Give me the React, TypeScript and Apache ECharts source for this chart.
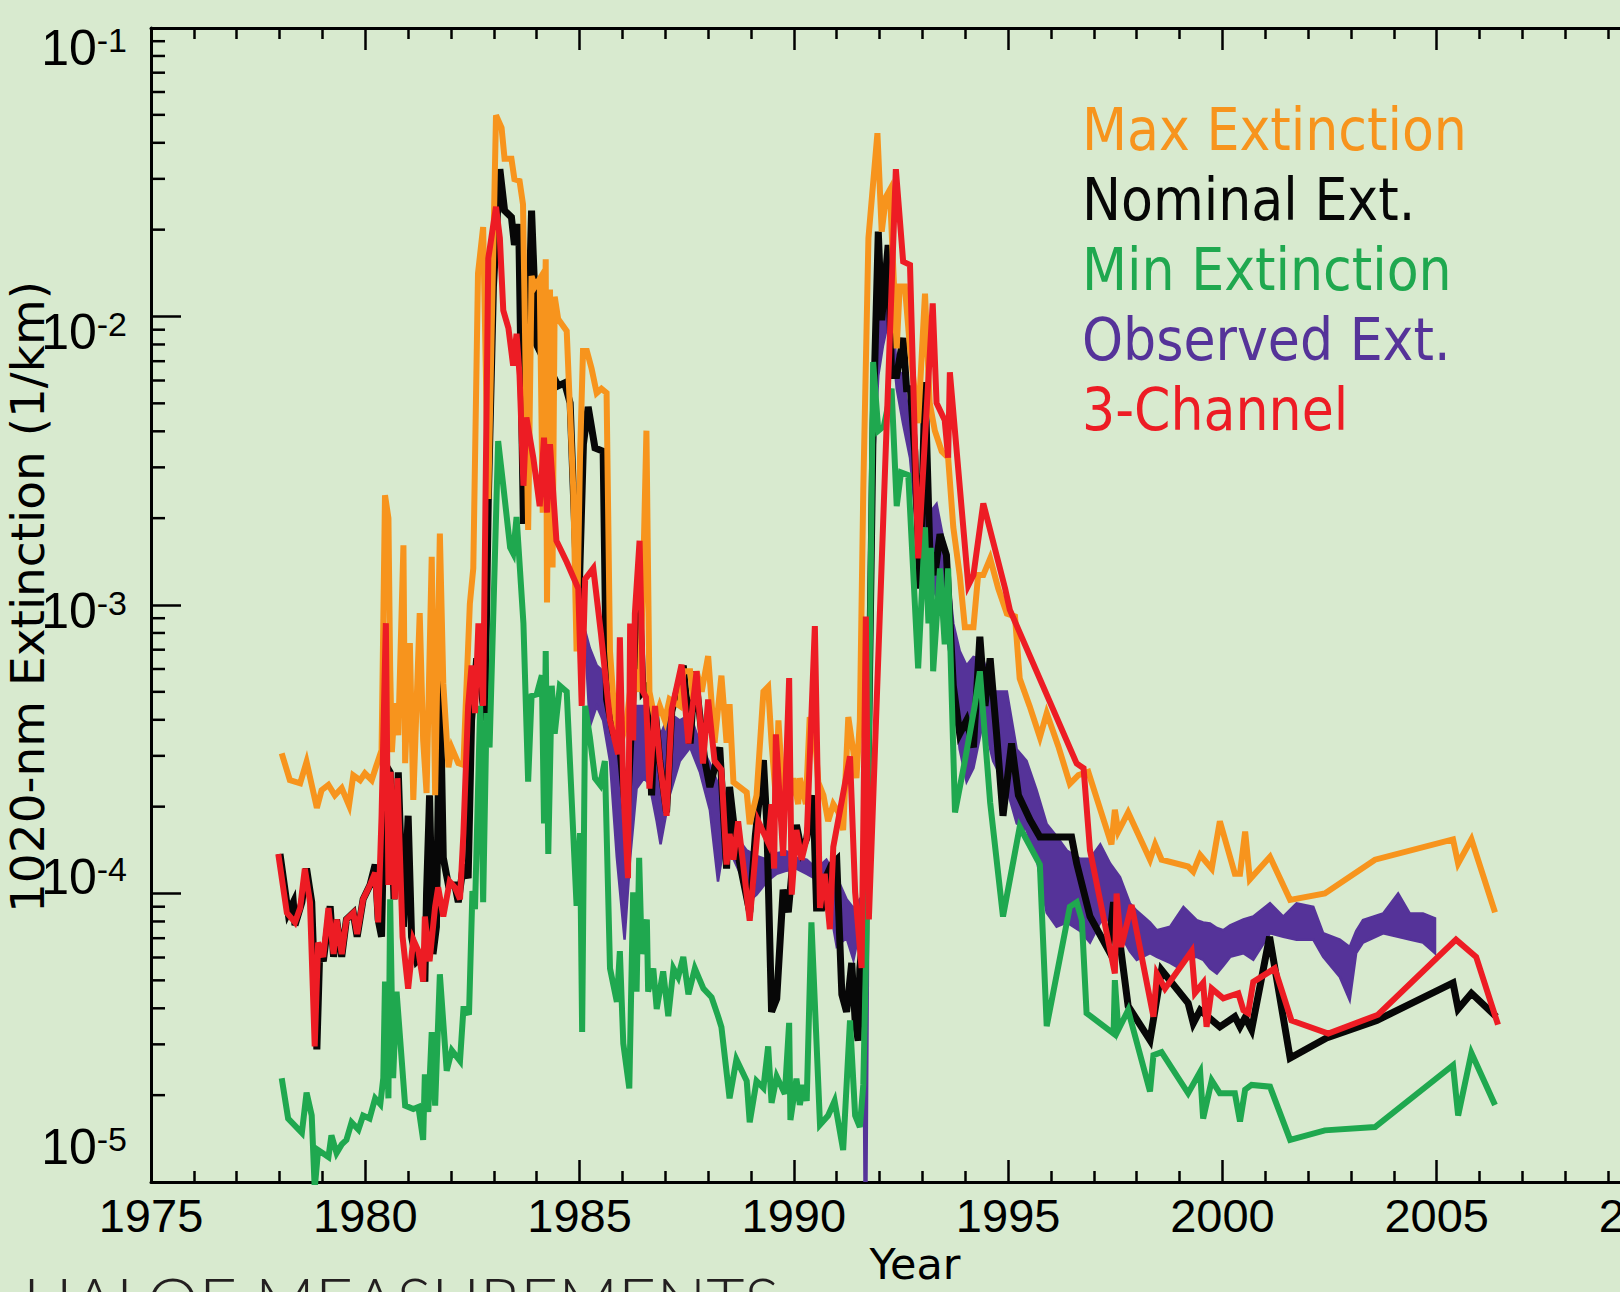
import React, { useEffect, useRef } from "react";
import * as echarts from "echarts";

// HALOE-era aerosol extinction at 1020 nm, [year, extinction in 1/km]
const maxExtinction: [number, number][] = [
  [1978.05, 3.06e-4], [1978.24, 2.47e-4], [1978.48, 2.41e-4], [1978.63, 2.86e-4], [1978.87, 1.98e-4],
  [1978.98, 2.28e-4], [1979.14, 2.38e-4], [1979.29, 2.19e-4], [1979.45, 2.32e-4], [1979.62, 2.02e-4],
  [1979.72, 2.57e-4], [1979.88, 2.47e-4], [1979.99, 2.61e-4], [1980.15, 2.47e-4], [1980.25, 2.75e-4],
  [1980.38, 3.14e-4], [1980.46, 2.4e-3], [1980.54, 2.0e-3], [1980.58, 6.1e-4], [1980.62, 3.09e-4],
  [1980.69, 4.57e-4], [1980.77, 3.54e-4], [1980.89, 1.61e-3], [1980.93, 2.83e-4], [1981.04, 7.38e-4],
  [1981.12, 2.11e-4], [1981.27, 9.38e-4], [1981.35, 3.4e-4], [1981.43, 2.23e-4], [1981.55, 1.47e-3],
  [1981.63, 2.19e-4], [1981.74, 1.77e-3], [1981.82, 5.36e-4], [1981.94, 2.74e-4], [1982.02, 3.19e-4],
  [1982.17, 2.83e-4], [1982.29, 2.79e-4], [1982.33, 3.99e-4], [1982.44, 1.01e-3], [1982.52, 1.34e-3],
  [1982.63, 1.41e-2], [1982.75, 2.04e-2], [1982.87, 2.33e-3], [1983.05, 4.98e-2], [1983.18, 4.51e-2],
  [1983.25, 3.52e-2], [1983.41, 3.52e-2], [1983.48, 2.99e-2], [1983.6, 2.95e-2], [1983.68, 2.45e-2],
  [1983.8, 1.82e-3], [1983.88, 1.38e-2], [1983.96, 1.27e-2], [1984.07, 1.35e-2], [1984.14, 2.09e-3],
  [1984.21, 1.58e-2], [1984.24, 1.02e-3], [1984.31, 1.24e-2], [1984.37, 1.35e-3], [1984.42, 1.17e-2],
  [1984.5, 9.8e-3], [1984.7, 8.9e-3], [1984.85, 2.59e-3], [1984.93, 6.9e-4], [1985.01, 3.24e-3],
  [1985.08, 7.6e-3], [1985.17, 7.6e-3], [1985.28, 6.6e-3], [1985.4, 5.43e-3], [1985.51, 5.62e-3],
  [1985.63, 5.43e-3], [1985.71, 6.9e-4], [1985.8, 4.47e-4], [1985.9, 3.58e-4], [1985.98, 3.39e-4],
  [1986.1, 3.98e-4], [1986.25, 6.17e-4], [1986.4, 5.01e-4], [1986.48, 1.2e-3], [1986.56, 4.02e-3],
  [1986.63, 5.01e-4], [1986.76, 3.98e-4], [1986.87, 4.47e-4], [1986.99, 3.98e-4], [1987.1, 4.72e-4],
  [1987.34, 4.47e-4], [1987.42, 5.89e-4], [1987.58, 5.89e-4], [1987.65, 4.72e-4], [1987.73, 5.89e-4],
  [1987.85, 5.01e-4], [1988.0, 6.65e-4], [1988.15, 3.33e-4], [1988.31, 5.69e-4], [1988.43, 3.33e-4],
  [1988.5, 4.53e-4], [1988.59, 2.43e-4], [1988.9, 2.24e-4], [1988.97, 1.74e-4], [1989.13, 2.19e-4],
  [1989.29, 5.01e-4], [1989.4, 5.21e-4], [1989.48, 3.33e-4], [1989.58, 2.14e-4], [1989.64, 3.98e-4],
  [1989.76, 2.04e-4], [1989.88, 2.04e-4], [1989.99, 2.51e-4], [1990.1, 2.04e-4], [1990.14, 2.51e-4],
  [1990.28, 2.04e-4], [1990.37, 4.09e-4], [1990.49, 3.55e-4], [1990.57, 2.43e-4], [1990.69, 2.19e-4],
  [1990.8, 1.78e-4], [1990.92, 2.04e-4], [1991.04, 1.91e-4], [1991.15, 1.66e-4], [1991.27, 4.09e-4],
  [1991.39, 3.09e-4], [1991.46, 2.51e-4], [1991.54, 3.98e-4], [1991.62, 2.51e-3], [1991.74, 1.87e-2],
  [1991.95, 4.32e-2], [1992.05, 1.97e-2], [1992.15, 2.6e-2], [1992.24, 2.75e-2], [1992.4, 7.76e-3],
  [1992.47, 1.27e-2], [1992.59, 1.27e-2], [1992.71, 7.76e-3], [1992.9, 4.27e-3], [1993.06, 1.2e-2],
  [1993.17, 5.01e-3], [1993.29, 4.02e-3], [1993.45, 3.41e-3], [1993.6, 3.24e-3], [1993.72, 1.86e-3],
  [1993.87, 1.27e-3], [1993.99, 8.38e-4], [1994.19, 8.38e-4], [1994.3, 1.27e-3], [1994.42, 1.27e-3],
  [1994.58, 1.45e-3], [1994.77, 1.14e-3], [1994.97, 9.33e-4], [1995.16, 9.12e-4], [1995.27, 5.56e-4],
  [1995.5, 4.47e-4], [1995.74, 3.48e-4], [1995.9, 4.22e-4], [1996.17, 3.24e-4], [1996.44, 2.4e-4],
  [1996.64, 2.57e-4], [1996.87, 2.64e-4], [1997.41, 1.48e-4], [1997.49, 1.95e-4], [1997.57, 1.64e-4],
  [1997.8, 1.91e-4], [1998.31, 1.31e-4], [1998.43, 1.48e-4], [1998.58, 1.31e-4], [1999.2, 1.24e-4],
  [1999.32, 1.19e-4], [1999.48, 1.36e-4], [1999.75, 1.22e-4], [1999.94, 1.78e-4], [2000.29, 1.17e-4],
  [2000.41, 1.17e-4], [2000.53, 1.64e-4], [2000.64, 1.12e-4], [2001.11, 1.34e-4], [2001.58, 9.5e-5],
  [2002.39, 1.0e-4], [2003.56, 1.31e-4], [2005.38, 1.54e-4], [2005.5, 1.27e-4], [2005.81, 1.54e-4],
  [2006.36, 8.6e-5],
];

const nominalExtinction: [number, number][] = [
  [1978.01, 1.37e-4], [1978.2, 8.57e-5], [1978.32, 9.33e-5], [1978.36, 7.76e-5], [1978.52, 9.33e-5],
  [1978.63, 1.22e-4], [1978.75, 9.33e-5], [1978.87, 2.88e-5], [1978.94, 6.53e-5], [1979.02, 5.82e-5],
  [1979.18, 9.03e-5], [1979.26, 6.03e-5], [1979.33, 8.13e-5], [1979.45, 6.03e-5], [1979.56, 8.13e-5],
  [1979.72, 8.57e-5], [1979.81, 7.08e-5], [1979.95, 9.55e-5], [1980.11, 1.07e-4], [1980.23, 1.26e-4],
  [1980.3, 8.13e-5], [1980.38, 7.08e-5], [1980.46, 2.82e-4], [1980.58, 2.63e-4], [1980.67, 9.55e-5],
  [1980.77, 2.63e-4], [1980.89, 7.67e-5], [1981.0, 1.86e-4], [1981.08, 7.08e-5], [1981.2, 5.82e-5],
  [1981.31, 6.03e-5], [1981.39, 4.95e-5], [1981.43, 1.01e-4], [1981.5, 2.19e-4], [1981.58, 6.17e-5],
  [1981.66, 7.67e-5], [1981.74, 5.89e-4], [1981.82, 1.33e-4], [1981.94, 1.07e-4], [1982.09, 1.07e-4],
  [1982.17, 9.33e-5], [1982.29, 1.26e-4], [1982.4, 1.13e-4], [1982.48, 3.98e-4], [1982.6, 6.53e-4],
  [1982.68, 5.56e-4], [1982.79, 3.98e-4], [1982.87, 2.31e-3], [1982.99, 1.27e-2], [1983.14, 3.24e-2],
  [1983.25, 2.33e-2], [1983.41, 2.21e-2], [1983.48, 1.77e-2], [1983.58, 2.09e-2], [1983.69, 1.91e-3],
  [1983.88, 2.33e-2], [1984.0, 7.98e-3], [1984.2, 6.92e-3], [1984.38, 6.24e-3], [1984.5, 5.75e-3],
  [1984.65, 5.89e-3], [1984.78, 5.01e-3], [1984.85, 2.59e-3], [1984.97, 8.63e-4], [1985.09, 3.61e-3],
  [1985.2, 4.86e-3], [1985.36, 3.5e-3], [1985.55, 3.41e-3], [1985.63, 4.72e-4], [1985.79, 3.58e-4],
  [1985.94, 3.21e-4], [1986.1, 1.75e-4], [1986.25, 5.01e-4], [1986.4, 1.0e-3], [1986.48, 5.01e-4],
  [1986.6, 5.25e-4], [1986.68, 2.19e-4], [1986.76, 4.37e-4], [1986.87, 2.88e-4], [1987.03, 1.91e-4],
  [1987.15, 4.27e-4], [1987.42, 6.17e-4], [1987.58, 3.31e-4], [1987.69, 5.89e-4], [1987.92, 2.9e-4],
  [1988.04, 2.34e-4], [1988.27, 3.21e-4], [1988.43, 1.22e-4], [1988.5, 2.34e-4], [1988.66, 1.45e-4],
  [1988.97, 8.61e-5], [1989.1, 1.58e-4], [1989.29, 2.9e-4], [1989.37, 1.73e-4], [1989.48, 3.89e-5],
  [1989.6, 4.32e-5], [1989.75, 1.03e-4], [1989.87, 8.61e-5], [1989.99, 1.35e-4], [1990.06, 1.73e-4],
  [1990.18, 1.41e-4], [1990.3, 1.55e-4], [1990.45, 2.19e-4], [1990.53, 8.91e-5], [1990.65, 8.91e-5],
  [1990.76, 1.15e-4], [1990.88, 1.26e-4], [1991.0, 1.31e-4], [1991.12, 4.47e-5], [1991.23, 3.89e-5],
  [1991.35, 5.75e-5], [1991.43, 3.63e-5], [1991.5, 3.09e-5], [1991.54, 5.5e-5], [1991.66, 8.57e-5],
  [1991.75, 3.98e-4], [1991.85, 4.24e-3], [1991.97, 1.97e-2], [1992.05, 9.7e-3], [1992.2, 1.77e-2],
  [1992.28, 6.24e-3], [1992.4, 6.24e-3], [1992.55, 8.43e-3], [1992.63, 5.62e-3], [1992.72, 5.62e-3],
  [1992.82, 3.41e-3], [1992.94, 1.14e-3], [1993.06, 5.92e-3], [1993.17, 1.58e-3], [1993.29, 1.27e-3],
  [1993.41, 1.76e-3], [1993.56, 1.49e-3], [1993.72, 5.25e-4], [1993.87, 3.58e-4], [1994.03, 3.98e-4],
  [1994.19, 3.21e-4], [1994.34, 7.76e-4], [1994.46, 4.47e-4], [1994.58, 6.53e-4], [1994.73, 3.58e-4],
  [1994.88, 1.86e-4], [1995.08, 3.31e-4], [1995.24, 2.19e-4], [1995.51, 1.8e-4], [1995.74, 1.57e-4],
  [1996.48, 1.57e-4], [1996.6, 1.27e-4], [1996.91, 8.32e-5], [1997.34, 6.37e-5], [1997.46, 9.33e-5],
  [1997.6, 6.92e-5], [1997.8, 4.07e-5], [1998.31, 3.1e-5], [1998.58, 5.43e-5], [1999.2, 4.17e-5],
  [1999.32, 3.55e-5], [1999.48, 3.94e-5], [1999.94, 3.45e-5], [2000.29, 3.74e-5], [2000.41, 3.45e-5],
  [2000.53, 3.72e-5], [2000.68, 3.37e-5], [2001.1, 7.08e-5], [2001.58, 2.69e-5], [2002.43, 3.16e-5],
  [2003.6, 3.63e-5], [2005.38, 4.9e-5], [2005.5, 3.98e-5], [2005.81, 4.51e-5], [2006.39, 3.74e-5],
];

const minExtinction: [number, number][] = [
  [1978.05, 2.29e-5], [1978.2, 1.66e-5], [1978.52, 1.48e-5], [1978.63, 2.04e-5], [1978.75, 1.7e-5],
  [1978.82, 9.5e-6], [1978.9, 1.29e-5], [1979.14, 1.22e-5], [1979.21, 1.45e-5], [1979.33, 1.26e-5],
  [1979.45, 1.35e-5], [1979.56, 1.4e-5], [1979.68, 1.61e-5], [1979.84, 1.52e-5], [1979.95, 1.7e-5],
  [1980.1, 1.66e-5], [1980.23, 1.95e-5], [1980.35, 1.86e-5], [1980.42, 2.29e-5], [1980.46, 4.95e-5],
  [1980.54, 1.95e-5], [1980.58, 9.55e-5], [1980.65, 2.29e-5], [1980.73, 4.57e-5], [1980.93, 1.84e-5],
  [1981.12, 1.79e-5], [1981.24, 1.82e-5], [1981.35, 1.4e-5], [1981.39, 2.36e-5], [1981.47, 1.75e-5],
  [1981.55, 3.31e-5], [1981.63, 1.84e-5], [1981.74, 5.25e-5], [1981.9, 2.43e-5], [1982.02, 2.86e-5],
  [1982.21, 2.63e-5], [1982.29, 3.98e-5], [1982.36, 3.98e-5], [1982.42, 3.8e-5], [1982.5, 1.02e-4],
  [1982.56, 8.83e-5], [1982.68, 4.47e-4], [1982.75, 9.33e-5], [1982.83, 4.22e-4], [1982.9, 3.21e-4],
  [1983.1, 3.7e-3], [1983.22, 2.59e-3], [1983.38, 1.58e-3], [1983.45, 1.51e-3], [1983.53, 2.02e-3],
  [1983.69, 8.63e-4], [1983.8, 2.44e-4], [1983.88, 4.84e-4], [1984.0, 4.9e-4], [1984.12, 5.71e-4],
  [1984.17, 1.75e-4], [1984.21, 6.92e-4], [1984.27, 1.37e-4], [1984.35, 5.25e-4], [1984.42, 3.58e-4],
  [1984.54, 5.25e-4], [1984.7, 5.01e-4], [1984.93, 9.06e-5], [1985.01, 1.62e-4], [1985.06, 3.31e-5],
  [1985.13, 4.47e-4], [1985.24, 3.48e-4], [1985.36, 2.51e-4], [1985.48, 2.38e-4], [1985.59, 2.88e-4],
  [1985.71, 5.5e-5], [1985.87, 4.21e-5], [1985.94, 6.31e-5], [1986.02, 3.02e-5], [1986.16, 2.11e-5],
  [1986.25, 1.01e-4], [1986.33, 4.57e-5], [1986.39, 1.33e-4], [1986.45, 6.17e-5], [1986.57, 8.13e-5],
  [1986.6, 4.57e-5], [1986.72, 5.5e-5], [1986.8, 3.98e-5], [1986.95, 5.37e-5], [1987.07, 3.76e-5],
  [1987.19, 5.5e-5], [1987.3, 5.13e-5], [1987.42, 6.03e-5], [1987.54, 4.47e-5], [1987.69, 5.5e-5],
  [1987.89, 4.68e-5], [1988.08, 4.37e-5], [1988.23, 3.76e-5], [1988.31, 3.44e-5], [1988.5, 1.95e-5],
  [1988.66, 2.66e-5], [1988.9, 2.24e-5], [1988.97, 1.61e-5], [1989.13, 2.24e-5], [1989.29, 2.12e-5],
  [1989.4, 2.95e-5], [1989.48, 1.88e-5], [1989.6, 2.32e-5], [1989.79, 2.02e-5], [1989.89, 3.56e-5],
  [1989.92, 1.64e-5], [1990.06, 2.28e-5], [1990.14, 1.85e-5], [1990.22, 2.17e-5], [1990.3, 1.91e-5],
  [1990.41, 7.94e-5], [1990.61, 1.58e-5], [1990.8, 1.7e-5], [1990.95, 1.91e-5], [1991.15, 1.29e-5],
  [1991.31, 3.63e-5], [1991.43, 1.7e-5], [1991.54, 1.55e-5], [1991.62, 2.17e-5], [1991.7, 7.67e-5],
  [1991.85, 6.95e-3], [1991.97, 4.02e-3], [1992.1, 4.17e-3], [1992.28, 5.62e-3], [1992.4, 2.2e-3],
  [1992.5, 2.88e-3], [1992.67, 2.82e-3], [1992.9, 6.03e-4], [1993.06, 1.86e-3], [1993.14, 8.63e-4],
  [1993.2, 1.58e-3], [1993.25, 5.89e-4], [1993.41, 1.34e-3], [1993.52, 7.31e-4], [1993.6, 1.34e-3],
  [1993.76, 1.91e-4], [1993.99, 2.88e-4], [1994.22, 4.47e-4], [1994.34, 5.89e-4], [1994.58, 2.07e-4],
  [1994.88, 8.32e-5], [1995.27, 1.7e-4], [1995.74, 1.26e-4], [1995.9, 3.47e-5], [1996.44, 9.0e-5],
  [1996.6, 9.33e-5], [1996.72, 8.09e-5], [1996.83, 3.85e-5], [1997.46, 3.27e-5], [1997.49, 5.01e-5],
  [1997.57, 3.37e-5], [1997.8, 3.94e-5], [1998.31, 2.06e-5], [1998.39, 2.75e-5], [1998.58, 2.82e-5],
  [1999.2, 2.03e-5], [1999.48, 2.41e-5], [1999.55, 1.66e-5], [1999.75, 2.25e-5], [1999.94, 2.03e-5],
  [2000.29, 2.03e-5], [2000.41, 1.62e-5], [2000.53, 2.09e-5], [2000.68, 2.17e-5], [2001.11, 2.14e-5],
  [2001.58, 1.4e-5], [2002.39, 1.51e-5], [2003.56, 1.55e-5], [2005.38, 2.54e-5], [2005.5, 1.7e-5],
  [2005.81, 2.8e-5], [2006.36, 1.85e-5],
];

const threeChannel: [number, number][] = [
  [1977.97, 1.37e-4], [1978.17, 8.57e-5], [1978.36, 7.94e-5], [1978.48, 8.91e-5], [1978.59, 1.22e-4],
  [1978.71, 9.33e-5], [1978.82, 2.95e-5], [1978.9, 6.76e-5], [1979.02, 6.03e-5], [1979.14, 8.91e-5],
  [1979.26, 6.17e-5], [1979.33, 8.13e-5], [1979.45, 6.17e-5], [1979.56, 8.13e-5], [1979.72, 8.57e-5],
  [1979.81, 7.24e-5], [1979.95, 9.55e-5], [1980.11, 1.07e-4], [1980.23, 1.18e-4], [1980.3, 7.94e-5],
  [1980.38, 1.86e-4], [1980.48, 8.65e-4], [1980.54, 1.07e-4], [1980.59, 2.64e-4], [1980.69, 9.55e-5],
  [1980.75, 2.51e-4], [1980.87, 7.08e-5], [1981.0, 4.68e-5], [1981.12, 6.92e-5], [1981.24, 6.31e-5],
  [1981.35, 4.95e-5], [1981.39, 8.32e-5], [1981.5, 5.82e-5], [1981.63, 9.03e-5], [1981.7, 1.05e-4],
  [1981.82, 8.32e-5], [1981.97, 1.1e-4], [1982.09, 1.05e-4], [1982.21, 9.55e-5], [1982.29, 1.62e-4],
  [1982.4, 4.47e-4], [1982.48, 6.17e-4], [1982.56, 4.22e-4], [1982.64, 8.63e-4], [1982.75, 4.47e-4],
  [1982.87, 1.59e-2], [1983.05, 2.4e-2], [1983.14, 1.87e-2], [1983.22, 1.05e-2], [1983.34, 9.12e-3],
  [1983.45, 6.76e-3], [1983.53, 8.71e-3], [1983.6, 6.24e-3], [1983.69, 2.59e-3], [1983.76, 4.47e-3],
  [1983.92, 3.24e-3], [1984.07, 2.2e-3], [1984.17, 3.8e-3], [1984.24, 2.09e-3], [1984.31, 3.61e-3],
  [1984.46, 1.67e-3], [1984.7, 1.41e-3], [1984.97, 1.14e-3], [1985.05, 4.47e-4], [1985.13, 1.23e-3],
  [1985.32, 1.34e-3], [1985.5, 7.94e-4], [1985.71, 3.98e-4], [1985.9, 3.04e-4], [1985.94, 7.73e-4],
  [1986.02, 2.31e-4], [1986.13, 1.13e-4], [1986.18, 8.63e-4], [1986.25, 3.39e-4], [1986.29, 9.33e-4],
  [1986.4, 1.67e-3], [1986.48, 5.01e-4], [1986.55, 4.79e-4], [1986.63, 2.31e-4], [1986.76, 4.47e-4],
  [1986.87, 2.88e-4], [1987.03, 1.86e-4], [1987.15, 4.34e-4], [1987.38, 6.21e-4], [1987.54, 3.31e-4],
  [1987.73, 5.89e-4], [1987.88, 2.82e-4], [1988.0, 4.7e-4], [1988.15, 2.88e-4], [1988.31, 2.69e-4],
  [1988.43, 1.26e-4], [1988.5, 1.61e-4], [1988.59, 1.31e-4], [1988.7, 1.78e-4], [1988.97, 8.05e-5],
  [1989.17, 1.78e-4], [1989.4, 1.5e-4], [1989.48, 2.04e-4], [1989.54, 1.22e-4], [1989.58, 3.56e-4],
  [1989.75, 1.35e-4], [1989.89, 5.58e-4], [1989.95, 9.91e-5], [1990.06, 1.66e-4], [1990.18, 1.31e-4],
  [1990.3, 1.55e-4], [1990.49, 8.45e-4], [1990.61, 8.91e-5], [1990.72, 1.17e-4], [1990.84, 7.52e-5],
  [1990.92, 1.45e-4], [1991.31, 2.99e-4], [1991.43, 1.01e-4], [1991.58, 5.52e-5], [1991.68, 9.12e-4],
  [1991.75, 8.13e-5], [1992.38, 3.24e-2], [1992.55, 1.55e-2], [1992.71, 1.51e-2], [1992.9, 1.45e-3],
  [1993.24, 1.11e-2], [1993.33, 5.01e-3], [1993.52, 4.37e-3], [1993.6, 3.24e-3], [1993.64, 6.41e-3],
  [1994.07, 1.17e-3], [1994.19, 1.27e-3], [1994.42, 2.25e-3], [1994.93, 1.14e-3], [1995.04, 9.62e-4],
  [1996.6, 2.82e-4], [1996.76, 2.72e-4], [1996.91, 1.41e-4], [1997.49, 5.28e-5], [1997.53, 1.0e-4],
  [1997.64, 6.53e-5], [1997.88, 9.12e-5], [1998.39, 3.74e-5], [1998.47, 5.28e-5], [1998.66, 4.68e-5],
  [1999.28, 6.31e-5], [1999.36, 4.52e-5], [1999.55, 4.9e-5], [1999.63, 3.45e-5], [1999.75, 4.68e-5],
  [2000.02, 4.33e-5], [2000.37, 4.51e-5], [2000.49, 3.94e-5], [2000.6, 3.85e-5], [2000.72, 4.94e-5],
  [2001.22, 5.5e-5], [2001.61, 3.63e-5], [2002.47, 3.27e-5], [2003.63, 3.8e-5], [2005.45, 6.92e-5],
  [2005.92, 6.03e-5], [2006.43, 3.51e-5],
];

// Observed extinction envelope: [year, lower, upper]
const observedBand: [number, number, number][] = [
  [1985.13, 7.59e-4, 8.13e-4], [1985.24, 3.8e-4, 7.08e-4], [1985.4, 4.47e-4, 6.17e-4], [1985.55, 3.98e-4, 5.89e-4],
  [1985.71, 2.88e-4, 3.98e-4], [1985.87, 1.33e-4, 3.04e-4], [1986.05, 6.92e-5, 2.34e-4], [1986.18, 1.33e-4, 2.51e-4],
  [1986.33, 2.31e-4, 4.47e-4], [1986.5, 2.51e-4, 4.47e-4], [1986.63, 2.4e-4, 3.8e-4], [1986.8, 1.78e-4, 3.98e-4],
  [1986.89, 1.48e-4, 3.55e-4], [1987.1, 2.19e-4, 4.22e-4], [1987.34, 2.88e-4, 3.98e-4], [1987.58, 3.21e-4, 4.17e-4],
  [1987.81, 2.63e-4, 3.31e-4], [1988.04, 1.95e-4, 2.82e-4], [1988.23, 1.1e-4, 2.4e-4], [1988.4, 1.58e-4, 2.09e-4],
  [1988.59, 1.32e-4, 1.66e-4], [1988.75, 1.17e-4, 1.51e-4], [1988.9, 9.25e-5, 1.41e-4], [1989.13, 9.91e-5, 1.35e-4],
  [1989.37, 1.1e-4, 1.31e-4], [1989.6, 1.17e-4, 1.38e-4], [1989.83, 1.2e-4, 1.4e-4], [1990.06, 1.22e-4, 1.33e-4],
  [1990.3, 1.17e-4, 1.31e-4], [1990.53, 1.12e-4, 1.22e-4], [1990.76, 1.05e-4, 1.31e-4], [1991.0, 6.55e-5, 1.14e-4],
  [1991.23, 7.02e-5, 9.55e-5], [1991.39, 5.89e-5, 8.91e-5], [1991.54, 7.52e-5, 9.55e-5], [1991.62, 5.01e-5, 9.12e-5],
  [1991.67, 3.0e-6, 6.0e-6], [1991.8, 2.0e-3, 3.16e-3], [1991.97, 6.24e-3, 9.12e-3], [1992.08, 7.94e-3, 1.14e-2],
  [1992.24, 1.02e-2, 1.42e-2], [1992.4, 5.62e-3, 6.61e-3], [1992.55, 4.24e-3, 6.24e-3], [1992.71, 3.24e-3, 4.24e-3],
  [1992.86, 1.86e-3, 2.88e-3], [1993.01, 1.2e-3, 2.59e-3], [1993.17, 1.2e-3, 2.09e-3], [1993.33, 1.07e-3, 2.24e-3],
  [1993.56, 8.63e-4, 1.49e-3], [1993.72, 5.01e-4, 8.63e-4], [1993.87, 3.16e-4, 6.92e-4], [1994.03, 2.44e-4, 6.17e-4],
  [1994.19, 2.72e-4, 6.61e-4], [1994.42, 3.98e-4, 6.46e-4], [1994.65, 2.88e-4, 5.01e-4], [1994.97, 2.31e-4, 5.01e-4],
  [1995.2, 1.75e-4, 3.16e-4], [1995.43, 1.66e-4, 2.88e-4], [1995.66, 1.33e-4, 2.29e-4], [1995.9, 8.57e-5, 1.74e-4],
  [1996.13, 7.67e-5, 1.58e-4], [1996.37, 7.94e-5, 1.41e-4], [1996.68, 7.41e-5, 1.32e-4], [1996.91, 6.76e-5, 1.32e-4],
  [1997.15, 7.94e-5, 1.48e-4], [1997.38, 8.13e-5, 1.27e-4], [1997.61, 7.28e-5, 1.14e-4], [1997.84, 6.31e-5, 9.25e-5],
  [1998.0, 5.89e-5, 8.71e-5], [1998.31, 6.21e-5, 7.94e-5], [1998.47, 6.03e-5, 7.46e-5], [1998.78, 5.75e-5, 7.67e-5],
  [1998.94, 5.57e-5, 8.32e-5], [1999.09, 5.89e-5, 8.99e-5], [1999.4, 6.03e-5, 8.09e-5], [1999.55, 5.89e-5, 7.94e-5],
  [1999.71, 5.5e-5, 7.87e-5], [1999.87, 5.28e-5, 7.59e-5], [2000.02, 5.62e-5, 7.46e-5], [2000.18, 6.03e-5, 7.76e-5],
  [2000.49, 6.21e-5, 8.13e-5], [2000.72, 5.89e-5, 8.32e-5], [2001.11, 7.28e-5, 9.25e-5], [2001.42, 7.08e-5, 8.32e-5],
  [2001.73, 6.92e-5, 9.25e-5], [2002.12, 6.92e-5, 8.99e-5], [2002.35, 6.03e-5, 7.28e-5], [2002.74, 5.14e-5, 6.92e-5],
  [2002.97, 4.27e-5, 6.53e-5], [2003.12, 6.21e-5, 7.41e-5], [2003.28, 6.76e-5, 8.09e-5], [2003.75, 7.28e-5, 8.53e-5],
  [2004.1, 7.08e-5, 1.0e-4], [2004.37, 6.92e-5, 8.53e-5], [2004.68, 6.76e-5, 8.53e-5], [2004.96, 6.21e-5, 8.2e-5],
];

const seriesNames = ["Max Extinction", "Nominal Ext.", "Min Extinction", "Observed Ext.", "3-Channel"];
const seriesColors = ["#f7941d", "#070707", "#1fa84f", "#553399", "#ed1c24"];

// Log-axis minor ticks (2..9 within each decade)
const minorMantissas = [2, 3, 4, 5, 6, 7, 8, 9];
const decadeStarts = [1e-5, 1e-4, 1e-3, 1e-2];

const BG = "#d8eacf";
const TICK_FONT = "'Liberation Sans', Arial, sans-serif";
const WIDE = "'DejaVu Sans', Verdana, sans-serif";
const LEGEND_FONT = "'DejaVu Sans Condensed', 'DejaVu Sans', sans-serif";

// The plot runs on to 2010, a little past the right edge of the page
const CHART_W = 1700;
const CHART_H = 1292;

// extra spacer lines that nudge each decade label up or down
const labelSpacer: Record<number, { style: string; before: boolean }> = {
  [-1]: { style: "g1", before: true },
  [-2]: { style: "g2", before: true },
  [-3]: { style: "g3", before: true },
  [-4]: { style: "g4", before: false },
  [-5]: { style: "g5", before: false },
};

export default function App() {
  const ref = useRef<HTMLDivElement>(null);

  useEffect(() => {
    if (!ref.current) return;
    const chart = echarts.init(ref.current, undefined, { renderer: "svg" });

    const minorTicks: [number, number][] = [];
    decadeStarts.forEach((d) => minorMantissas.forEach((m) => minorTicks.push([1975, m * d])));

    const lineSeries = (name: string, color: string, data: [number, number][], width: number, z: number) => ({
      type: "line",
      name,
      data,
      showSymbol: false,
      symbol: "none",
      clip: true,
      z,
      itemStyle: { color },
      lineStyle: { color, width, join: "miter", cap: "butt" },
      emphasis: { disabled: true },
    });

    const option: any = {
      animation: false,
      backgroundColor: BG,
      grid: {
        left: 151,
        top: 28,
        bottom: 110,
        right: CHART_W - 1651,
        containLabel: false,
        outerBoundsMode: "none",
      },
      legend: {
        orient: "vertical",
        left: 1077,
        top: 95,
        padding: 0,
        itemGap: 0,
        itemWidth: 0,
        itemHeight: 0,
        icon: "rect",
        selectedMode: false,
        itemStyle: { opacity: 0 },
        textStyle: { fontSize: 58, fontFamily: LEGEND_FONT, lineHeight: 70 },
        data: seriesNames.map((name, i) => ({ name, textStyle: { color: seriesColors[i] } })),
      },
      xAxis: [
        {
          type: "value",
          min: 1975,
          max: 2010,
          interval: 5,
          position: "bottom",
          name: "Year",
          nameLocation: "middle",
          nameGap: 60,
          nameMoveOverlap: false,
          nameTextStyle: { fontSize: 43, fontFamily: WIDE, color: "#000", padding: [0, 0, 0, 28] },
          axisLine: { lineStyle: { color: "#000", width: 3 } },
          axisTick: { inside: true, length: 22, lineStyle: { color: "#000", width: 2.5 } },
          minorTick: { show: true, splitNumber: 5, length: 11, lineStyle: { color: "#000", width: 2.5 } },
          splitLine: { show: false },
          axisLabel: {
            fontSize: 47,
            fontFamily: TICK_FONT,
            color: "#000",
            margin: 10,
            showMinLabel: true,
            showMaxLabel: true,
            formatter: (v: number) => String(v),
          },
        },
        {
          type: "value",
          min: 1975,
          max: 2010,
          interval: 5,
          position: "top",
          axisLine: { lineStyle: { color: "#000", width: 3 } },
          axisTick: { inside: true, length: 22, lineStyle: { color: "#000", width: 2.5 } },
          minorTick: { show: true, splitNumber: 5, length: 11, lineStyle: { color: "#000", width: 2.5 } },
          splitLine: { show: false },
          axisLabel: { show: false },
        },
      ],
      yAxis: {
        type: "log",
        logBase: 10,
        min: 1e-5,
        max: 1e-1,
        splitNumber: 4,
        name: "1020-nm Extinction (1/km)",
        nameLocation: "middle",
        nameRotate: 90,
        nameGap: 100,
        nameMoveOverlap: false,
        nameTextStyle: { fontSize: 47, fontFamily: WIDE, color: "#000", padding: [0, 0, 0, 16] },
        axisLine: { lineStyle: { color: "#000", width: 3 } },
        axisTick: { inside: true, length: 30, lineStyle: { color: "#000", width: 2.5 } },
        splitLine: { show: false },
        axisLabel: {
          margin: 24,
          color: "#000",
          showMinLabel: true,
          showMaxLabel: true,
          formatter: (value: number) => {
            const exp = Math.round(Math.log10(value));
            const main = `{b|10}{s|${exp}}`;
            const sp = labelSpacer[exp];
            if (!sp) return main;
            return sp.before ? `{${sp.style}| }\n${main}` : `${main}\n{${sp.style}| }`;
          },
          rich: {
            b: { fontSize: 50, lineHeight: 50, fontFamily: TICK_FONT, color: "#000", padding: [13, 0, 0, 0], verticalAlign: "bottom" },
            s: { fontSize: 34, lineHeight: 34, fontFamily: TICK_FONT, color: "#000", verticalAlign: "top" },
            g1: { fontSize: 4, lineHeight: 40 },
            g2: { fontSize: 4, lineHeight: 30 },
            g3: { fontSize: 4, lineHeight: 12 },
            g4: { fontSize: 4, lineHeight: 34 },
            g5: { fontSize: 4, lineHeight: 70 },
          },
        },
      },
      graphic: [
        {
          type: "text",
          left: 23,
          top: 1266,
          silent: true,
          style: {
            text: "HALOE MEASUREMENTS",
            fontSize: 66,
            fontFamily: "Lato, 'Open Sans', sans-serif",
            fontWeight: 300,
            fill: "#231f20",
          },
        },
      ],
      series: [
        {
          type: "custom",
          name: "Observed Ext.",
          data: observedBand,
          encode: { x: 0, y: [1, 2] },
          clip: true,
          z: 1,
          itemStyle: { color: seriesColors[3] },
          renderItem: (params: any, api: any) => {
            if (params.dataIndex !== 0) return null;
            const upper = observedBand.map((r) => api.coord([r[0], r[2]]));
            const lower = observedBand.map((r) => api.coord([r[0], r[1]])).reverse();
            return {
              type: "polygon",
              shape: { points: upper.concat(lower) },
              style: { fill: seriesColors[3], stroke: seriesColors[3], lineWidth: 2.5, lineJoin: "miter" },
            };
          },
        },
        lineSeries(seriesNames[0], seriesColors[0], maxExtinction, 6, 3),
        lineSeries(seriesNames[1], seriesColors[1], nominalExtinction, 7, 2),
        lineSeries(seriesNames[2], seriesColors[2], minExtinction, 6, 4),
        lineSeries(seriesNames[4], seriesColors[4], threeChannel, 6, 5),
        {
          type: "custom",
          silent: true,
          data: minorTicks,
          clip: false,
          z: 10,
          renderItem: (_params: any, api: any) => {
            const p = api.coord([api.value(0), api.value(1)]);
            return {
              type: "line",
              shape: { x1: p[0], y1: p[1], x2: p[0] + 14, y2: p[1] },
              style: { stroke: "#000", lineWidth: 2.5 },
            };
          },
        },
      ],
    };

    chart.setOption(option);
    return () => chart.dispose();
  }, []);

  return (
    <div
      ref={ref}
      style={{ position: "fixed", left: 0, top: 0, width: CHART_W, height: CHART_H, background: BG }}
    />
  );
}
